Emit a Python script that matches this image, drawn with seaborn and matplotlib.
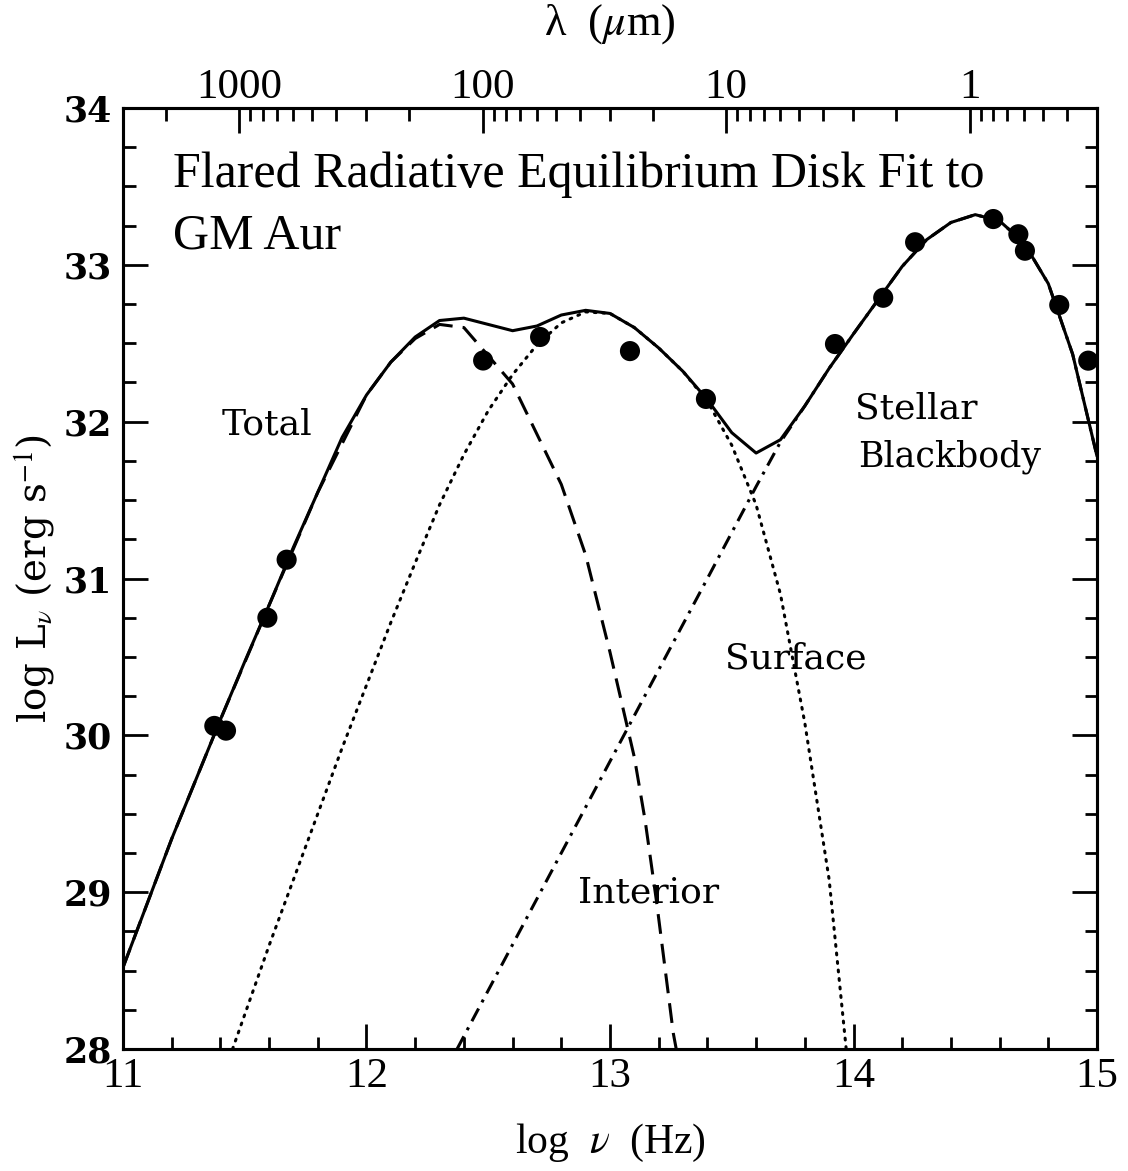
import numpy as np
import pandas as pd
import seaborn as sns
import matplotlib.pyplot as plt

# observed SED of GM Aur (log nu, log L_nu)
obs_lognu = [11.375, 11.423, 11.593, 11.672, 12.479, 12.713, 13.082, 13.394,
             13.924, 14.122, 14.253, 14.574, 14.677, 14.704, 14.845, 14.964]
obs_logL = [30.06, 30.03, 30.75, 31.12, 32.39, 32.54, 32.45, 32.145,
            32.495, 32.79, 33.144, 33.292, 33.195, 33.09, 32.744, 32.389]

# model components
total_x = [11.0, 11.1, 11.2, 11.3, 11.4, 11.5, 11.6, 11.7, 11.8, 11.9, 12.0,
           12.1, 12.2, 12.3, 12.4, 12.5, 12.6, 12.7, 12.8, 12.9, 13.0, 13.1,
           13.2, 13.3, 13.4, 13.5, 13.6, 13.7, 13.8, 13.9, 14.0, 14.1, 14.2,
           14.3, 14.4, 14.5, 14.6, 14.7, 14.8, 14.9, 15.0]
total_y = [28.52, 28.93, 29.34, 29.72, 30.10, 30.47, 30.83, 31.20, 31.55, 31.90, 32.17,
           32.38, 32.54, 32.645, 32.66, 32.62, 32.58, 32.61, 32.68, 32.71, 32.69, 32.60,
           32.47, 32.32, 32.14, 31.93, 31.80, 31.885, 32.10, 32.34, 32.56, 32.775, 32.99,
           33.16, 33.27, 33.32, 33.28, 33.14, 32.88, 32.43, 31.78]

interior_x = [11.0, 11.2, 11.4, 11.6, 11.8, 12.0, 12.1, 12.2, 12.3, 12.4, 12.5,
              12.6, 12.7, 12.8, 12.9, 13.0, 13.1, 13.144, 13.192, 13.26, 13.272]
interior_y = [28.52, 29.34, 30.10, 30.83, 31.55, 32.17, 32.38, 32.53, 32.62, 32.60, 32.42,
              32.24, 31.92, 31.60, 31.15, 30.53, 29.86, 29.46, 28.93, 28.10, 28.0]

surface_x = [11.45, 11.5, 11.6, 11.7, 11.8, 11.9, 12.0, 12.1, 12.2, 12.3, 12.4, 12.5,
             12.6, 12.7, 12.8, 12.9, 13.0, 13.1, 13.2, 13.3, 13.4, 13.5, 13.6, 13.7,
             13.8, 13.9, 13.97]
surface_y = [28.0, 28.22, 28.66, 29.08, 29.50, 29.92, 30.32, 30.72, 31.10, 31.47, 31.79, 32.07,
             32.30, 32.49, 32.63, 32.70, 32.69, 32.60, 32.47, 32.32, 32.13, 31.85, 31.47, 30.90,
             30.08, 29.08, 28.0]

stellar_x = [12.372, 12.6, 12.8, 13.0, 13.2, 13.4, 13.6, 13.7, 13.8, 13.9, 14.0, 14.1,
             14.2, 14.3, 14.4, 14.5, 14.6, 14.7, 14.8, 14.9, 15.0]
stellar_y = [28.0, 28.666, 29.25, 29.834, 30.418, 31.0, 31.586, 31.87, 32.10, 32.34, 32.56, 32.775,
             32.99, 33.16, 33.27, 33.32, 33.28, 33.14, 32.88, 32.43, 31.78]

# top axis: wavelength in micron
lam_major = [1000, 100, 10, 1]
lam_minor = [3000, 2000, 900, 800, 700, 600, 500, 400, 300, 200,
             90, 80, 70, 60, 50, 40, 30, 20, 9, 8, 7, 6, 5, 4, 3, 2,
             0.9, 0.8, 0.7, 0.6, 0.5, 0.4, 0.3]
log_c = np.log10(2.998e14)

sns.set_style("ticks")
plt.rcParams['font.family'] = ['DejaVu Serif']
plt.rcParams['mathtext.fontset'] = 'stix'
plt.rcParams['axes.linewidth'] = 2.2
for key in ['text.color', 'axes.labelcolor', 'axes.edgecolor', 'xtick.color', 'ytick.color']:
    plt.rcParams[key] = 'black'

fig = plt.figure(figsize=(11.28, 11.71), dpi=100)
ax = fig.add_axes([0.10904, 0.10418, 0.86348, 0.80359])

lw = 2.2
sns.lineplot(x=surface_x, y=surface_y, ax=ax, color='black', lw=lw, sort=False,
             estimator=None, linestyle=(0, (0.6, 2.2)), dash_capstyle='round')
sns.lineplot(x=interior_x, y=interior_y, ax=ax, color='black', lw=lw, sort=False,
             estimator=None, linestyle=(0, (6.5, 3.3)))
sns.lineplot(x=stellar_x, y=stellar_y, ax=ax, color='black', lw=lw, sort=False,
             estimator=None, linestyle=(0, (4.7, 2.3, 1, 2.3)))
sns.lineplot(x=total_x, y=total_y, ax=ax, color='black', lw=lw, sort=False,
             estimator=None)
sns.scatterplot(x=obs_lognu, y=obs_logL, ax=ax, color='black', s=210,
                edgecolor='none', zorder=5, clip_on=False)

ax.set_xlim(11, 15)
ax.set_ylim(28, 34)
ax.set_xticks([11, 12, 13, 14, 15])
ax.set_xticks(np.arange(11, 15.01, 0.2), minor=True)
ax.set_yticks([28, 29, 30, 31, 32, 33, 34])
ax.set_yticks(np.arange(28, 34.01, 0.25), minor=True)
ax.tick_params(which='both', direction='in', top=False, right=True, width=2)
ax.tick_params(which='major', length=18)
ax.tick_params(which='minor', length=9)
ax.tick_params(axis='x', labelsize=31, labelfontfamily='Liberation Serif', pad=6)
ax.tick_params(axis='y', labelsize=25, pad=8)
for lab in ax.get_yticklabels():
    lab.set_fontweight('bold')

ax.set_xlabel(r'log  $\nu$  (Hz)', fontsize=30, family='Liberation Serif', labelpad=19)
ax.set_ylabel(r'log L$_\nu$ (erg s$^{-1}$)', fontsize=28, labelpad=4)

ax2 = ax.twiny()
ax2.set_xlim(11, 15)
ax2.set_xticks([log_c - np.log10(l) for l in lam_major])
ax2.set_xticklabels([f'{l:g}' for l in lam_major])
ax2.set_xticks([log_c - np.log10(l) for l in lam_minor], minor=True)
ax2.tick_params(which='both', direction='in', width=2, labelsize=31,
                labelfontfamily='Liberation Serif', pad=1)
ax2.tick_params(which='major', length=18)
ax2.tick_params(which='minor', length=9)
ax2.set_xlabel(r'λ  ($\mu$m)', fontsize=32, family='Liberation Serif', labelpad=24)

ax.text(11.205, 33.573, 'Flared Radiative Equilibrium Disk Fit to', fontsize=36,
        family='Liberation Serif', va='center', ha='left')
ax.text(11.205, 33.184, 'GM Aur', fontsize=36, family='Liberation Serif',
        va='center', ha='left')
ax.text(11.407, 31.985, 'Total', fontsize=26, va='center', ha='left')
ax.text(14.006, 32.087, 'Stellar', fontsize=26, va='center', ha='left')
ax.text(14.018, 31.775, 'Blackbody', fontsize=25, va='center', ha='left')
ax.text(13.472, 30.493, 'Surface', fontsize=26, va='center', ha='left')
ax.text(12.869, 28.995, 'Interior', fontsize=26, va='center', ha='left')

fig.savefig('out.png', dpi=100)
